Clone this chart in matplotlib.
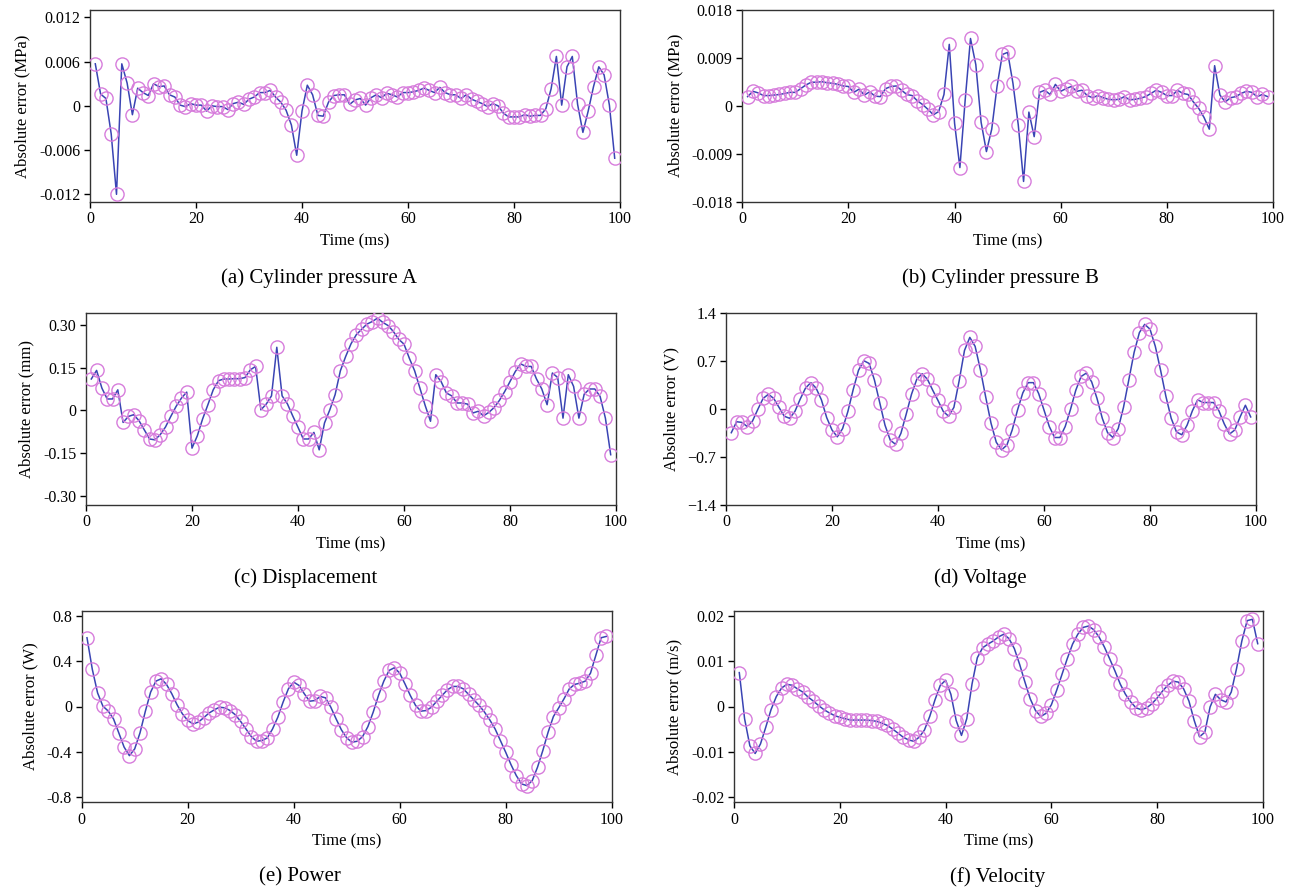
import matplotlib
matplotlib.use("Agg")
import matplotlib.pyplot as plt
import numpy as np

time_ms = list(range(1, 100))

pressure_a = [0.0057, 0.0016, 0.0010, -0.0038, -0.0120, 0.0057, 0.0031, -0.0012, 0.0024, 0.0018,
              0.0014, 0.0030, 0.0026, 0.0027, 0.0015, 0.0012, 0.0001, -0.0001, 0.0003, 0.0001,
              0.0001, -0.0007, 0.0000, -0.0001, -0.0001, -0.0005, 0.0003, 0.0005, 0.0002, 0.0009,
              0.0012, 0.0018, 0.0018, 0.0021, 0.0012, 0.0005, -0.0006, -0.0026, -0.0067, -0.0007,
              0.0028, 0.0015, -0.0013, -0.0014, 0.0005, 0.0014, 0.0015, 0.0015, 0.0002, 0.0008,
              0.0010, 0.0001, 0.0011, 0.0015, 0.0011, 0.0017, 0.0015, 0.0012, 0.0018, 0.0018,
              0.0019, 0.0021, 0.0024, 0.0021, 0.0018, 0.0025, 0.0018, 0.0015, 0.0015, 0.0010,
              0.0015, 0.0009, 0.0006, 0.0003, -0.0001, 0.0003, 0.0000, -0.0010, -0.0015, -0.0015,
              -0.0015, -0.0012, -0.0014, -0.0013, -0.0013, -0.0004, 0.0023, 0.0067, 0.0001, 0.0053,
              0.0067, 0.0002, -0.0036, -0.0007, 0.0026, 0.0053, 0.0042, 0.0001, -0.0071]

pressure_b = [0.0017, 0.0027, 0.0024, 0.0019, 0.0019, 0.0020, 0.0021, 0.0023, 0.0025, 0.0025,
              0.0032, 0.0039, 0.0044, 0.0044, 0.0045, 0.0043, 0.0042, 0.0040, 0.0037, 0.0036,
              0.0025, 0.0031, 0.0020, 0.0026, 0.0018, 0.0017, 0.0032, 0.0036, 0.0037, 0.0029,
              0.0021, 0.0019, 0.0009, 0.0002, -0.0007, -0.0017, -0.0011, 0.0021, 0.0115, -0.0033,
              -0.0116, 0.0011, 0.0126, 0.0077, -0.0031, -0.0086, -0.0044, 0.0036, 0.0096, 0.0100,
              0.0042, -0.0036, -0.0142, -0.0012, -0.0058, 0.0025, 0.0029, 0.0021, 0.0040, 0.0027,
              0.0032, 0.0036, 0.0027, 0.0029, 0.0019, 0.0015, 0.0019, 0.0015, 0.0012, 0.0011,
              0.0012, 0.0017, 0.0011, 0.0012, 0.0014, 0.0017, 0.0023, 0.0029, 0.0025, 0.0019,
              0.0019, 0.0029, 0.0023, 0.0021, 0.0007, -0.0005, -0.0022, -0.0044, 0.0075, 0.0020,
              0.0007, 0.0015, 0.0017, 0.0023, 0.0027, 0.0025, 0.0017, 0.0021, 0.0017]

displacement = [0.110, 0.140, 0.078, 0.040, 0.040, 0.072, -0.042, -0.021, -0.015, -0.036,
                -0.068, -0.100, -0.103, -0.085, -0.058, -0.021, 0.014, 0.043, 0.064, -0.132,
                -0.089, -0.030, 0.020, 0.072, 0.104, 0.110, 0.110, 0.111, 0.111, 0.115,
                0.142, 0.154, 0.002, 0.022, 0.051, 0.221, 0.051, 0.023, -0.019, -0.059,
                -0.100, -0.100, -0.077, -0.138, -0.044, 0.002, 0.055, 0.139, 0.189, 0.233,
                0.265, 0.284, 0.302, 0.311, 0.323, 0.308, 0.297, 0.276, 0.249, 0.232,
                0.183, 0.139, 0.078, 0.017, -0.038, 0.125, 0.101, 0.061, 0.051, 0.026,
                0.026, 0.022, -0.009, -0.003, -0.019, -0.007, 0.010, 0.035, 0.066, 0.101,
                0.136, 0.163, 0.154, 0.154, 0.110, 0.075, 0.020, 0.131, 0.115, -0.027,
                0.125, 0.084, -0.027, 0.057, 0.075, 0.075, 0.049, -0.027, -0.155]

voltage = [-0.35, -0.19, -0.20, -0.26, -0.18, -0.01, 0.15, 0.21, 0.15, 0.02,
           -0.11, -0.14, -0.04, 0.14, 0.30, 0.38, 0.30, 0.13, -0.13, -0.31,
           -0.41, -0.29, -0.04, 0.28, 0.56, 0.70, 0.66, 0.42, 0.09, -0.24,
           -0.46, -0.52, -0.36, -0.08, 0.21, 0.43, 0.51, 0.43, 0.27, 0.12,
           -0.04, -0.11, 0.02, 0.41, 0.85, 1.04, 0.91, 0.57, 0.17, -0.21,
           -0.49, -0.60, -0.53, -0.31, -0.02, 0.23, 0.38, 0.38, 0.22, -0.02,
           -0.26, -0.42, -0.42, -0.26, -0.01, 0.27, 0.47, 0.52, 0.39, 0.15,
           -0.14, -0.35, -0.42, -0.29, 0.02, 0.42, 0.82, 1.11, 1.23, 1.16,
           0.91, 0.56, 0.18, -0.14, -0.34, -0.38, -0.24, -0.03, 0.13, 0.09,
           0.09, 0.09, -0.03, -0.22, -0.37, -0.31, -0.12, 0.05, -0.12]

power = [0.61, 0.33, 0.12, 0.003, -0.04, -0.11, -0.234, -0.36, -0.436, -0.376,
         -0.234, -0.044, 0.127, 0.225, 0.246, 0.196, 0.113, 0.015, -0.065, -0.124,
         -0.154, -0.139, -0.100, -0.059, -0.030, -0.006, -0.012, -0.036, -0.074, -0.133,
         -0.200, -0.267, -0.308, -0.302, -0.279, -0.200, -0.095, 0.039, 0.157, 0.216,
         0.187, 0.113, 0.047, 0.053, 0.089, 0.077, -0.006, -0.110, -0.207, -0.279,
         -0.317, -0.308, -0.267, -0.178, -0.050, 0.098, 0.225, 0.320, 0.344, 0.296,
         0.200, 0.098, 0.009, -0.041, -0.036, -0.006, 0.047, 0.098, 0.148, 0.178,
         0.178, 0.157, 0.107, 0.059, 0.009, -0.050, -0.119, -0.199, -0.302, -0.406,
         -0.516, -0.613, -0.687, -0.702, -0.658, -0.539, -0.391, -0.228, -0.089, -0.012,
         0.068, 0.157, 0.196, 0.207, 0.225, 0.296, 0.453, 0.610, 0.622]

velocity = [0.0075, -0.0027, -0.0087, -0.0104, -0.0083, -0.0046, -0.0007, 0.0022, 0.0041, 0.0049,
            0.0047, 0.0039, 0.0032, 0.0021, 0.0012, 0.0002, -0.0007, -0.0014, -0.0020, -0.0024,
            -0.0027, -0.0030, -0.0030, -0.0030, -0.0030, -0.0031, -0.0033, -0.0037, -0.0042, -0.0050,
            -0.0059, -0.0068, -0.0074, -0.0077, -0.0068, -0.0052, -0.0022, 0.0015, 0.0047, 0.0058,
            0.0027, -0.0031, -0.0064, -0.0027, 0.0050, 0.0108, 0.0130, 0.0138, 0.0145, 0.0154,
            0.0160, 0.0150, 0.0128, 0.0093, 0.0054, 0.0017, -0.0009, -0.0022, -0.0015, 0.0004,
            0.0036, 0.0071, 0.0106, 0.0138, 0.0160, 0.0175, 0.0178, 0.0170, 0.0154, 0.0132,
            0.0106, 0.0079, 0.0050, 0.0027, 0.0010, -0.0003, -0.0007, -0.0003, 0.0006, 0.0019,
            0.0034, 0.0047, 0.0056, 0.0054, 0.0039, 0.0012, -0.0031, -0.0067, -0.0057, -0.0001,
            0.0027, 0.0015, 0.0010, 0.0032, 0.0084, 0.0145, 0.0190, 0.0193, 0.0139]

x_ticks = [0, 20, 40, 60, 80, 100]
x_tick_labels = ["0", "20", "40", "60", "80", "100"]

ticks_a = [0.012, 0.006, 0, -0.006, -0.012]
labels_a = ["0.012", "0.006", "0", "-0.006", "-0.012"]
ticks_b = [0.018, 0.009, 0, -0.009, -0.018]
labels_b = ["0.018", "0.009", "0", "-0.009", "-0.018"]
ticks_c = [0.30, 0.15, 0, -0.15, -0.30]
labels_c = ["0.30", "0.15", "0", "-0.15", "-0.30"]
ticks_d = [1.4, 0.7, 0, -0.7, -1.4]
labels_d = ["1.4", "0.7", "0", "\u22120.7", "\u22121.4"]
ticks_e = [0.8, 0.4, 0, -0.4, -0.8]
labels_e = ["0.8", "0.4", "0", "-0.4", "-0.8"]
ticks_f = [0.02, 0.01, 0, -0.01, -0.02]
labels_f = ["0.02", "0.01", "0", "-0.01", "-0.02"]

ylabels = ["Absolute error (MPa)", "Absolute error (MPa)", "Absolute error (mm)",
           "Absolute error (V)", "Absolute error (W)", "Absolute error (m/s)"]
captions = ["(a) Cylinder pressure A", "(b) Cylinder pressure B", "(c) Displacement",
            "(d) Voltage", "(e) Power", "(f) Velocity"]

plt.rcParams['font.family'] = ['Liberation Serif', 'DejaVu Serif']

W, H = 1295, 892
fig = plt.figure(figsize=(W / 100, H / 100), dpi=100)

# pixel boxes: left, right, top, bottom
boxes = [(90, 620, 10, 201.7), (742.3, 1273, 9.7, 201.7),
         (86, 616, 312.7, 504.7), (726, 1256, 312.7, 504.7),
         (81.7, 611.7, 610.7, 802.3), (734, 1263, 610.7, 802.3)]
series = [pressure_a, pressure_b, displacement, voltage, power, velocity]
yticks = [ticks_a, ticks_b, ticks_c, ticks_d, ticks_e, ticks_f]
ytlabels = [labels_a, labels_b, labels_c, labels_d, labels_e, labels_f]
ylims = [(-0.013, 0.013), (-0.018, 0.018), (-0.33, 0.342), (-1.4, 1.4), (-0.85, 0.85), (-0.0212, 0.0212)]
caption_xy = [(319, 278), (1000, 278), (306, 578), (980, 578), (300, 877), (998, 877)]

line_color = '#3a44b4'
marker_color = '#d77ddc'

for i in range(6):
    l, r, t, b = boxes[i]
    ax = fig.add_axes([l / W, 1 - b / H, (r - l) / W, (b - t) / H])
    ax.plot(time_ms, series[i], color=line_color, lw=1.1, zorder=2)
    ax.plot(time_ms, series[i], ls='none', marker='o', ms=9.5, mfc='none',
            mec=marker_color, mew=1.0, zorder=3)
    ax.set_xlim(0, 100)
    ax.set_ylim(*ylims[i])
    ax.set_xticks(x_ticks)
    ax.set_xticklabels(x_tick_labels)
    ax.set_yticks(yticks[i])
    ax.set_yticklabels(ytlabels[i])
    ax.tick_params(direction='out', length=4, width=1, labelsize=11.5, pad=3)
    for sp in ax.spines.values():
        sp.set_linewidth(1.0)
        sp.set_color('#333333')
    ax.set_xlabel("Time (ms)", fontsize=12, labelpad=4)
    ax.set_ylabel(ylabels[i], fontsize=12, labelpad=6)
    cx, cy = caption_xy[i]
    fig.text(cx / W, 1 - cy / H, captions[i], ha='center', va='center', fontsize=15)

fig.savefig("out.png", dpi=100)
